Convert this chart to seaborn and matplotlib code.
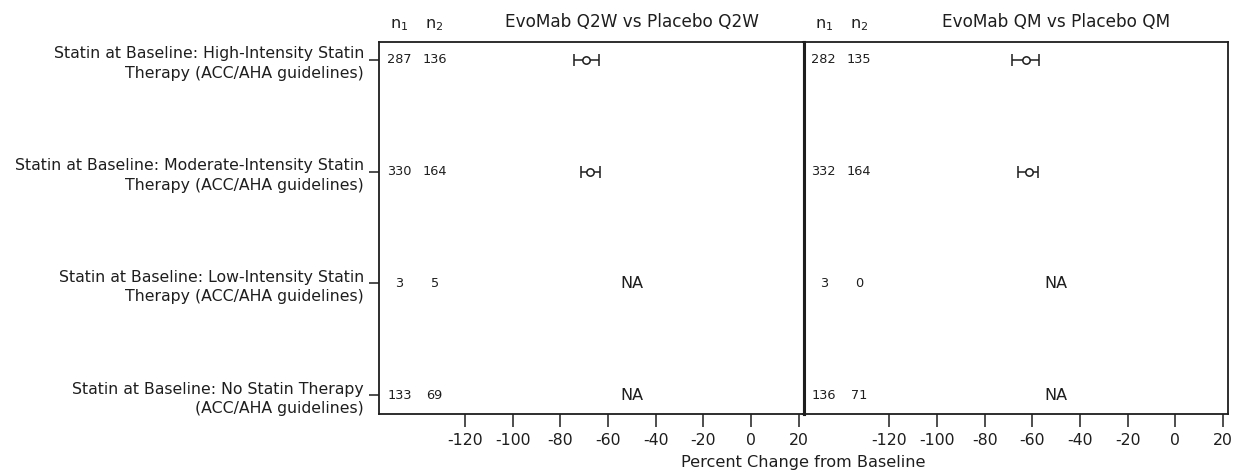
import numpy as np
import pandas as pd
import matplotlib
matplotlib.use("Agg")
import matplotlib.pyplot as plt
import seaborn as sns

# Subgroups (rows, top to bottom)
categories = [
    "Statin at Baseline: High-Intensity Statin\nTherapy (ACC/AHA guidelines)",
    "Statin at Baseline: Moderate-Intensity Statin\nTherapy (ACC/AHA guidelines)",
    "Statin at Baseline: Low-Intensity Statin\nTherapy (ACC/AHA guidelines)",
    "Statin at Baseline: No Statin Therapy\n(ACC/AHA guidelines)",
]

# Panel 1: EvoMab Q2W vs Placebo Q2W
q2w_n1 = [287, 330, 3, 133]
q2w_n2 = [136, 164, 5, 69]
q2w_est = [-69.2, -67.5, np.nan, np.nan]
q2w_lo = [-74.1, -71.3, np.nan, np.nan]
q2w_hi = [-63.6, -63.3, np.nan, np.nan]

# Panel 2: EvoMab QM vs Placebo QM
qm_n1 = [282, 332, 3, 136]
qm_n2 = [135, 164, 0, 71]
qm_est = [-62.6, -61.2, np.nan, np.nan]
qm_lo = [-68.7, -65.8, np.nan, np.nan]
qm_hi = [-57.0, -57.4, np.nan, np.nan]

titles = ["EvoMab Q2W vs Placebo Q2W", "EvoMab QM vs Placebo QM"]
xticks = [-120, -100, -80, -60, -40, -20, 0, 20]

panels = [
    pd.DataFrame({"row": range(4), "n1": q2w_n1, "n2": q2w_n2,
                  "est": q2w_est, "lo": q2w_lo, "hi": q2w_hi}),
    pd.DataFrame({"row": range(4), "n1": qm_n1, "n2": qm_n2,
                  "est": qm_est, "lo": qm_lo, "hi": qm_hi}),
]

sns.set_theme(style="ticks")
plt.rcParams["font.family"] = ["DejaVu Sans"]

W, H = 1234, 472
fig = plt.figure(figsize=(W / 100, H / 100), dpi=100)

xlim = (-156, 22.1)
ylim = (3.17, -0.16)
txt = "#1e1e1e"

lefts = [379.3, 803.5]
for i, (df, title) in enumerate(zip(panels, titles)):
    left = lefts[i] / W
    bottom = 1 - 414 / H
    width = 424.4 / W
    height = (414 - 42) / H
    ax = fig.add_axes([left, bottom, width, height])

    ok = df.dropna(subset=["est"])
    ax.errorbar(ok["est"], ok["row"],
                xerr=[ok["est"] - ok["lo"], ok["hi"] - ok["est"]],
                fmt="none", ecolor=txt, elinewidth=1.1, capsize=4, capthick=1.1)
    sns.scatterplot(data=ok, x="est", y="row", ax=ax, marker="o", s=28,
                    facecolor="white", edgecolor=txt, linewidth=1.1, zorder=3)

    for _, r in df.iterrows():
        ax.text(-147.5, r["row"], f"{int(r['n1'])}", ha="center", va="center",
                fontsize=9.3, color=txt)
        ax.text(-132.8, r["row"], f"{int(r['n2'])}", ha="center", va="center",
                fontsize=9.3, color=txt)
        if np.isnan(r["est"]):
            ax.text(-50, r["row"], "NA", ha="center", va="center",
                    fontsize=11.5, color=txt)

    # column headers above the frame
    ax.text(-147.5, -0.28, "n$_1$", ha="center", va="baseline", fontsize=11.5,
            color=txt)
    ax.text(-132.8, -0.28, "n$_2$", ha="center", va="baseline", fontsize=11.5,
            color=txt)
    ax.text(-50, -0.255, title, ha="center", va="bottom", fontsize=12.2,
            color=txt)

    ax.set_xlim(*xlim)
    ax.set_ylim(*ylim)
    ax.set_xticks(xticks)
    ax.set_xticklabels([str(t) for t in xticks], fontsize=11.3, color=txt)
    ax.tick_params(axis="x", direction="out", length=9, width=1.1, pad=5,
                   colors=txt)
    ax.set_xlabel("")
    ax.set_ylabel("")
    for s in ax.spines.values():
        s.set_visible(True)
        s.set_color(txt)
        s.set_linewidth(1.3)

    if i == 0:
        ax.spines["right"].set_linewidth(2.2)
        ax.set_yticks(range(4))
        ax.set_yticklabels(categories, fontsize=11.3, color=txt, ha="right",
                           linespacing=1.38)
        ax.tick_params(axis="y", direction="out", length=7, width=1.1, pad=4,
                       colors=txt)
    else:
        ax.spines["left"].set_linewidth(2.2)
        ax.set_yticks([])

fig.text(803.5 / W, 1 - 463 / H, "Percent Change from Baseline",
         ha="center", va="center", fontsize=11.6, color=txt)

fig.savefig("out.png", dpi=100)
